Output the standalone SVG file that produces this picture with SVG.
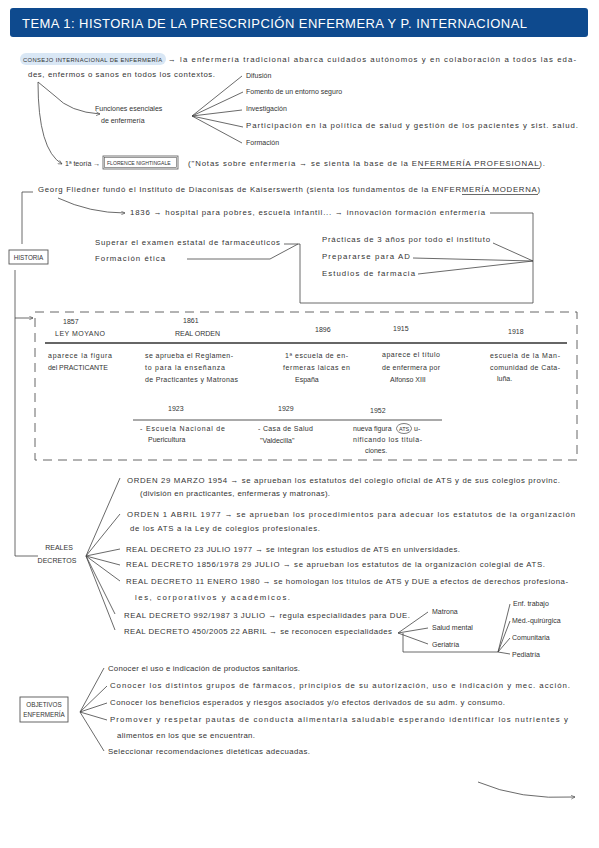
<svg xmlns="http://www.w3.org/2000/svg" width="599" height="848" viewBox="0 0 599 848">
<defs>
<style>
.t{font-family:"Liberation Sans",Arial,sans-serif;font-size:7px;fill:#333}
.w{font-size:7.8px}
.s{font-size:6.3px}
.c{text-anchor:middle}
.ln{stroke:#444;stroke-width:0.8;fill:none}
.bx{stroke:#555;stroke-width:0.9;fill:#fff}
</style>
<marker id="ah" viewBox="0 0 10 10" refX="9" refY="5" markerWidth="6" markerHeight="6" orient="auto-start-reverse">
<path d="M1,1 L9,5 L1,9" fill="none" stroke="#444" stroke-width="1.2"/>
</marker>
</defs>
<rect width="599" height="848" fill="#fff"/>

<g id="header">
<rect x="10" y="8" width="578" height="29" rx="3" fill="#0e4a8e"/>
<text x="22" y="28" font-family="Liberation Sans, Arial, sans-serif" font-size="13" fill="#fff" textLength="505" lengthAdjust="spacing">TEMA 1: HISTORIA DE LA PRESCRIPCIÓN ENFERMERA  Y  P. INTERNACIONAL</text>
</g>

<g id="connectors">
<path class="ln" d="M38,82 L55,96 Q70,112 100,114" marker-end="url(#ah)"/>
<path class="ln" d="M38,82 Q38,150 62,164" marker-end="url(#ah)"/>
<path class="ln" d="M192,116 L242,76 M192,116 L243,92 M192,116 L242,110 M192,116 L243,127 M192,116 L242,143"/>
<path class="ln" d="M33,192 L22,192 L22,244"/>
<path class="ln" d="M15,270 L15,556 L38,556"/>
<path class="ln" d="M15,318 L33,318" marker-end="url(#ah)"/>
<path class="ln" d="M58,198 Q90,213 125,213" marker-end="url(#ah)"/>
<path class="ln" d="M490,213 L533,213 L533,303 L300,303 L300,244 L284,244"/>
<path class="ln" d="M187,259 L270,259 L298,244"/>
<path class="ln" d="M493,243 L533,261 M413,258 L533,261 M418,274 L533,261"/>
<path class="ln" d="M86,556 L120,478 M86,556 L120,514 M86,556 L120,549 M86,556 L120,565 M86,556 L120,581 M86,556 L115,614 M86,556 L115,630"/>
<path class="ln" d="M398,633 L428,612 M398,633 L428,628 M398,633 L428,644"/>
<path class="ln" d="M403,633 L403,652 L498,652 M498,652 L510,604 M498,652 L510,621 M498,652 L510,638 M498,652 L510,654"/>
<path class="ln" d="M80,712 L104,668 M80,712 L107,686 M80,712 L107,703 M80,712 L107,720 M80,712 L104,751"/>
<path class="ln" d="M478,782 Q520,800 575,797" marker-end="url(#ah)"/>
</g>

<g id="consejo">
<rect x="20" y="53" width="146" height="12" rx="6" fill="#d9e7f5"/>
<text class="t" x="23" y="62" style="font-size:5.8px" textLength="139">CONSEJO INTERNACIONAL DE ENFERMERÍA</text>
<text class="t w" x="168" y="62" textLength="408">→ la enfermería tradicional abarca cuidados autónomos y en colaboración a todos las eda-</text>
<text class="t w" x="28" y="77" textLength="187">des, enfermos o sanos en todos los contextos.</text>
</g>

<g id="funciones">
<text class="t" x="95" y="111">Funciones esenciales</text>
<text class="t" x="101" y="123">de enfermería</text>
<text class="t" x="246" y="78">Difusión</text>
<text class="t" x="246" y="94">Fomento de un entorno seguro</text>
<text class="t" x="246" y="111">Investigación</text>
<text class="t w" x="246" y="128" textLength="332">Participación en la política de salud y gestión de los pacientes y sist. salud.</text>
<text class="t" x="246" y="145">Formación</text>
</g>

<g id="teoria">
<text class="t" x="65" y="166">1ª teoría →</text>
<rect x="103" y="156" width="75" height="13" fill="none" stroke="#555" stroke-width="0.8"/>
<rect x="104.5" y="157.5" width="72" height="10" fill="none" stroke="#555" stroke-width="0.6"/>
<text class="t" x="107" y="165" style="font-size:5.1px">FLORENCE NIGHTINGALE</text>
<text class="t w" x="188" y="166" textLength="357">("Notas sobre enfermería → se sienta la base de la ENFERMERÍA PROFESIONAL).</text>
<line class="ln" x1="420" y1="168.5" x2="540" y2="168.5"/>
</g>

<g id="historia">
<rect class="bx" x="9" y="250" width="39" height="14"/>
<text class="t s c" x="28.5" y="259.5">HISTORIA</text>
</g>

<g id="fliedner">
<text class="t w" x="38" y="192" textLength="502">Georg Fliedner  fundó el  Instituto de Diaconisas de Kaiserswerth (sienta los fundamentos de la ENFERMERÍA MODERNA)</text>
<line class="ln" x1="462" y1="194.5" x2="538" y2="194.5"/>
<text class="t w" x="130" y="215" textLength="355">1836 → hospital para pobres, escuela infantil... → innovación formación enfermería</text>
<text class="t w" x="95" y="245" textLength="185">Superar el examen estatal de farmacéuticos</text>
<text class="t w" x="95" y="261" textLength="70">Formación ética</text>
<text class="t w" x="322" y="242" textLength="168">Prácticas de 3 años por todo el instituto</text>
<text class="t w" x="322" y="259" textLength="88">Prepararse para AD</text>
<text class="t w" x="322" y="276" textLength="93">Estudios de farmacia</text>
</g>

<g id="timeline">
<rect x="35" y="312" width="542" height="148" fill="none" stroke="#555" stroke-width="0.9" stroke-dasharray="9 6"/>
<line x1="45" y1="343" x2="567" y2="343" stroke="#666" stroke-width="1.8"/>
<line x1="133" y1="420" x2="442" y2="420" stroke="#555" stroke-width="1"/>
<text class="t" x="63" y="324">1857</text>
<text class="t" x="55" y="336" textLength="50">LEY MOYANO</text>
<text class="t" x="183" y="323">1861</text>
<text class="t" x="175" y="336" textLength="45">REAL ORDEN</text>
<text class="t" x="315" y="332">1896</text>
<text class="t" x="393" y="331">1915</text>
<text class="t" x="508" y="334">1918</text>
<text class="t" x="48" y="358" textLength="64">aparece la figura</text>
<text class="t" x="48" y="370" textLength="60">del PRACTICANTE</text>
<text class="t" x="145" y="358" textLength="88">se aprueba el Reglamen-</text>
<text class="t" x="145" y="370" textLength="80">to para la enseñanza</text>
<text class="t" x="145" y="382" textLength="93">de Practicantes y Matronas</text>
<text class="t" x="285" y="358" textLength="63">1ª escuela de en-</text>
<text class="t" x="283" y="370" textLength="67">fermeras laicas en</text>
<text class="t" x="295" y="382">España</text>
<text class="t" x="382" y="357" textLength="58">aparece el título</text>
<text class="t" x="382" y="370" textLength="58">de enfermera por</text>
<text class="t" x="390" y="382">Alfonso XIII</text>
<text class="t" x="490" y="358" textLength="70">escuela de la Man-</text>
<text class="t" x="490" y="370" textLength="70">comunidad de Cata-</text>
<text class="t" x="497" y="381">luña.</text>
<text class="t" x="168" y="411">1923</text>
<text class="t" x="278" y="411">1929</text>
<text class="t" x="370" y="413">1952</text>
<text class="t" x="140" y="431" textLength="85">- Escuela Nacional de</text>
<text class="t" x="148" y="442">Puericultura</text>
<text class="t" x="258" y="431" textLength="55">- Casa de Salud</text>
<text class="t" x="260" y="443">"Valdecilla"</text>
<text class="t" x="353" y="431">nueva figura</text>
<ellipse cx="404" cy="428.5" rx="7.5" ry="5" fill="none" stroke="#444" stroke-width="0.7"/>
<text class="t" x="399" y="430.8" style="font-size:5.5px">ATS</text>
<text class="t" x="414" y="431">u-</text>
<text class="t" x="353" y="442" textLength="69">nificando los titula-</text>
<text class="t" x="365" y="453">ciones.</text>
</g>

<g id="reales">
<text class="t c" x="59" y="550">REALES</text>
<text class="t c" x="57" y="563">DECRETOS</text>
<text class="t w" x="127" y="483" textLength="433">ORDEN 29 MARZO 1954 → se aprueban los estatutos del colegio oficial de ATS y de sus colegios provinc.</text>
<text class="t w" x="140" y="496" textLength="190">(división en practicantes, enfermeras y matronas).</text>
<text class="t w" x="127" y="517" textLength="448">ORDEN 1 ABRIL 1977 → se aprueban los procedimientos para adecuar los estatutos de la organización</text>
<text class="t w" x="130" y="531" textLength="190">de los ATS a la Ley de colegios profesionales.</text>
<text class="t w" x="126" y="552" textLength="334">REAL DECRETO 23 JULIO 1977 → se integran los estudios de ATS en universidades.</text>
<text class="t w" x="126" y="567" textLength="419">REAL DECRETO 1856/1978 29 JULIO → se aprueban los estatutos de la organización colegial de ATS.</text>
<text class="t w" x="126" y="584" textLength="442">REAL DECRETO 11 ENERO 1980 → se homologan los títulos de ATS y DUE a efectos de derechos profesiona-</text>
<text class="t w" x="135" y="600" textLength="155">les, corporativos y académicos.</text>
<text class="t w" x="124" y="618" textLength="286">REAL DECRETO 992/1987 3 JULIO → regula especialidades para DUE.</text>
<text class="t w" x="124" y="634" textLength="268">REAL DECRETO 450/2005 22 ABRIL → se reconocen especialidades</text>
<text class="t" x="432" y="614">Matrona</text>
<text class="t" x="432" y="630">Salud mental</text>
<text class="t" x="432" y="647">Geriatría</text>
<text class="t" x="513" y="606">Enf. trabajo</text>
<text class="t" x="512" y="623">Méd.-quirúrgica</text>
<text class="t" x="512" y="640">Comunitaria</text>
<text class="t" x="512" y="657">Pediatría</text>
</g>

<g id="objetivos">
<rect class="bx" x="20" y="697" width="48" height="25"/>
<text class="t s c" x="44" y="707">OBJETIVOS</text>
<text class="t s c" x="44" y="717">ENFERMERÍA</text>
<text class="t w" x="108" y="671" textLength="192">Conocer el uso e indicación de productos sanitarios.</text>
<text class="t w" x="110" y="688" textLength="460">Conocer los distintos grupos de fármacos, principios de su autorización, uso e indicación y mec. acción.</text>
<text class="t w" x="110" y="705" textLength="395">Conocer los beneficios esperados y riesgos asociados y/o efectos derivados de su adm. y consumo.</text>
<text class="t w" x="110" y="722" textLength="458">Promover y respetar pautas de conducta alimentaria saludable esperando identificar los nutrientes y</text>
<text class="t w" x="117" y="738" textLength="138">alimentos en los que se encuentran.</text>
<text class="t w" x="108" y="754" textLength="202">Seleccionar recomendaciones dietéticas adecuadas.</text>
</g>
</svg>
